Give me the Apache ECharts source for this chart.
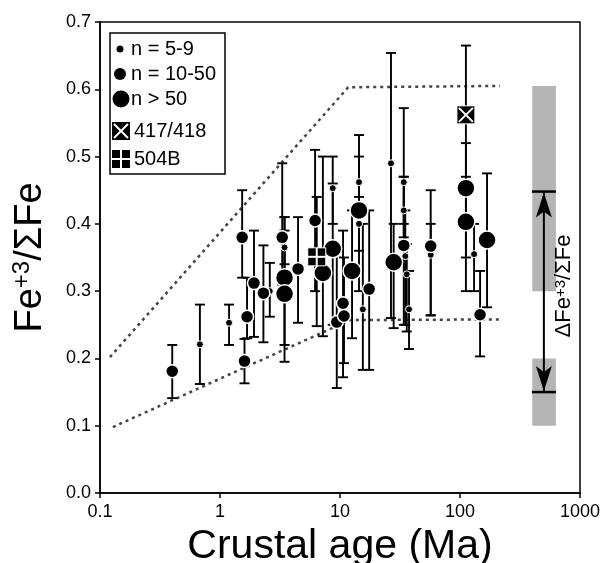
<!DOCTYPE html>
<html><head><meta charset="utf-8">
<script src="https://cdn.jsdelivr.net/npm/echarts@6/dist/echarts.min.js"></script>
<style>html,body{margin:0;padding:0;background:#fff}#c{width:608px;height:563px}</style>
</head><body><div id="c"></div>
<script>
// [age (Ma), Fe3+/ΣFe, low, high]
var smallPts = [
  [0.68,0.221,0.162,0.28],[1.19,0.253,0.22,0.28],[2.6,0.30,0.262,0.342],
  [3.45,0.365,0.34,0.41],[8.7,0.453,0.40,0.50],[14.4,0.462,0.42,0.50],
  [14.4,0.40,0.36,0.44],[15.5,0.273,0.183,0.40],[26.6,0.49,0.26,0.654],
  [34,0.462,0.40,0.572],[34,0.42,0.38,0.47],[35,0.352,0.25,0.42],
  [36,0.325,0.24,0.37],[37.6,0.273,0.214,0.33],[57,0.354,0.264,0.40],
  [131,0.355,0.30,0.40]
];
var mediumPts = [
  [0.4,0.181,0.141,0.22],[1.53,0.38,0.32,0.45],[1.6,0.196,0.163,0.229],
  [1.68,0.262,0.23,0.32],[1.92,0.312,0.232,0.39],[2.3,0.297,0.224,0.368],
  [3.3,0.38,0.31,0.49],[4.47,0.333,0.253,0.41],[6.2,0.405,0.30,0.51],
  [9.4,0.254,0.156,0.36],[10.6,0.282,0.172,0.39],[10.8,0.263,0.193,0.35],
  [17.5,0.303,0.183,0.42],[34,0.368,0.25,0.47],[57,0.367,0.264,0.45],
  [147,0.265,0.203,0.33]
];
var largePts = [
  [3.45,0.32,0.22,0.41],[3.45,0.296,0.195,0.39],[7.2,0.327,0.233,0.50],
  [8.7,0.363,0.25,0.46],[12.6,0.33,0.23,0.42],[14.4,0.42,0.30,0.532],
  [28,0.343,0.245,0.40],[112,0.453,0.35,0.52],[112,0.403,0.30,0.47],
  [168,0.376,0.276,0.475]
];
var site417 = [[112,0.562,0.45,0.665]];
var site504B = [[6.4,0.351,0.248,0.44]];
var upperBound = [[0.121,0.202],[11.7,0.603],[215,0.605]];
var lowerBound = [[0.128,0.098],[12.1,0.257],[227,0.258]];
// [x0, x1, y0, y1]
var bands = [[400,630,0.30,0.605],[400,630,0.10,0.20]];
// [x, yTop, yBottom]
var deltaArrow = [[500,0.448,0.150]];
var xTicks = [0.1,1,10,100,1000];
var legendNames = ['n = 5-9','n = 10-50','n > 50','417/418','504B'];

var allPts = smallPts.concat(mediumPts, largePts, site417, site504B);

function errRender(params, api){
  var x = api.value(0), lo = api.value(2), hi = api.value(3);
  var a = api.coord([x, lo]), b = api.coord([x, hi]);
  var w = 5;
  var st = {stroke:'#000', lineWidth:1.9};
  return {type:'group', children:[
    {type:'line', shape:{x1:a[0],y1:a[1],x2:b[0],y2:b[1]}, style:st},
    {type:'line', shape:{x1:a[0]-w,y1:a[1],x2:a[0]+w,y2:a[1]}, style:st},
    {type:'line', shape:{x1:b[0]-w,y1:b[1],x2:b[0]+w,y2:b[1]}, style:st}
  ]};
}
function squareRender(kind){
  return function(params, api){
    var p = api.coord([api.value(0), api.value(1)]);
    var s = 9;
    var ch = [{type:'rect', shape:{x:p[0]-s,y:p[1]-s,width:2*s,height:2*s}, style:{fill:'#000', stroke:'#fff', lineWidth:1}}];
    var ws = {stroke:'#fff', lineWidth:2};
    if(kind==='x'){
      ch.push({type:'line', shape:{x1:p[0]-s+2,y1:p[1]-s+2,x2:p[0]+s-2,y2:p[1]+s-2}, style:ws});
      ch.push({type:'line', shape:{x1:p[0]+s-2,y1:p[1]-s+2,x2:p[0]-s+2,y2:p[1]+s-2}, style:ws});
    } else {
      ch.push({type:'line', shape:{x1:p[0],y1:p[1]-s,x2:p[0],y2:p[1]+s}, style:ws});
      ch.push({type:'line', shape:{x1:p[0]-s,y1:p[1],x2:p[0]+s,y2:p[1]}, style:ws});
    }
    return {type:'group', children:ch};
  };
}
function bandRender(params, api){
  var a = api.coord([api.value(0), api.value(3)]);
  var b = api.coord([api.value(1), api.value(2)]);
  return {type:'rect', shape:{x:a[0], y:a[1], width:b[0]-a[0], height:b[1]-a[1]}, style:{fill:'#b4b4b4'}};
}
function arrowRender(params, api){
  var x = api.value(0);
  var t = api.coord([x, api.value(1)]), b = api.coord([x, api.value(2)]);
  var st = {stroke:'#000', lineWidth:2};
  var hw = 8, hl = 26, cw = 12;
  return {type:'group', children:[
    {type:'line', shape:{x1:t[0],y1:t[1],x2:b[0],y2:b[1]}, style:st},
    {type:'line', shape:{x1:t[0]-cw,y1:t[1],x2:t[0]+cw,y2:t[1]}, style:{stroke:'#000',lineWidth:2.5}},
    {type:'line', shape:{x1:b[0]-cw,y1:b[1],x2:b[0]+cw,y2:b[1]}, style:{stroke:'#000',lineWidth:2.5}},
    {type:'polygon', shape:{points:[[t[0],t[1]+1],[t[0]-hw,t[1]+hl],[t[0],t[1]+hl-6],[t[0]+hw,t[1]+hl]]}, style:{fill:'#000'}},
    {type:'polygon', shape:{points:[[b[0],b[1]-1],[b[0]-hw,b[1]-hl],[b[0],b[1]-hl+6],[b[0]+hw,b[1]-hl]]}, style:{fill:'#000'}}
  ]};
}

var FONT = 'Liberation Sans, Arial, sans-serif';
var chart = echarts.init(document.getElementById('c'));
var lx = 120, ly = [49,74,99,131,159];
var legendGraphics = [
  {type:'rect', shape:{x:110,y:33,width:115,height:141}, style:{fill:'#fff', stroke:'#000', lineWidth:1.5}, z:100},
  {type:'circle', shape:{cx:lx,cy:ly[0],r:3.5}, style:{fill:'#000'}, z:101},
  {type:'circle', shape:{cx:lx,cy:ly[1],r:6}, style:{fill:'#000'}, z:101},
  {type:'circle', shape:{cx:lx+1,cy:ly[2],r:8.5}, style:{fill:'#000'}, z:101},
  {type:'rect', shape:{x:lx-8,y:ly[3]-9,width:18,height:18}, style:{fill:'#000'}, z:101},
  {type:'line', shape:{x1:lx-6,y1:ly[3]-7,x2:lx+8,y2:ly[3]+7}, style:{stroke:'#fff',lineWidth:2}, z:102},
  {type:'line', shape:{x1:lx+8,y1:ly[3]-7,x2:lx-6,y2:ly[3]+7}, style:{stroke:'#fff',lineWidth:2}, z:102},
  {type:'rect', shape:{x:lx-8,y:ly[4]-9,width:18,height:18}, style:{fill:'#000'}, z:101},
  {type:'line', shape:{x1:lx+1,y1:ly[4]-9,x2:lx+1,y2:ly[4]+9}, style:{stroke:'#fff',lineWidth:2}, z:102},
  {type:'line', shape:{x1:lx-8,y1:ly[4],x2:lx+10,y2:ly[4]}, style:{stroke:'#fff',lineWidth:2}, z:102}
];
var textX = [131,131,131,134,134];
for (var i=0;i<legendNames.length;i++){
  legendGraphics.push({type:'text', x:textX[i], y:ly[i], z:101,
    style:{text:legendNames[i], font:'20px '+FONT, fill:'#000', textVerticalAlign:'middle', verticalAlign:'middle'}});
}
legendGraphics.push({type:'text', x:564, y:286, rotation:Math.PI/2, z:101,
  style:{text:'{a|ΔFe}{s|+3}{a|/ΣFe}', align:'center', verticalAlign:'middle',
    rich:{a:{font:'22px '+FONT, fill:'#000'}, s:{font:'15px '+FONT, fill:'#000', padding:[0,0,6,0]}}}});

var dotStyle = function(bw){ return {color:'#000', opacity:1, borderColor:'#fff', borderWidth:bw}; };
chart.setOption({
  animation:false,
  backgroundColor:'#fff',
  grid:{left:100, right:28, top:22, bottom:70, containLabel:false, outerBoundsMode:'none',
    show:true, borderColor:'#000', borderWidth:1.5, backgroundColor:'transparent'},
  xAxis:{type:'log', logBase:10, min:0.1, max:1000,
    name:'Crustal age (Ma)', nameLocation:'middle', nameGap:22,
    nameTextStyle:{fontSize:41, fontFamily:FONT, color:'#000'},
    axisLine:{lineStyle:{color:'#000', width:1.5}},
    axisTick:{inside:false, length:5, lineStyle:{color:'#000', width:1.5}},
    minorTick:{show:false}, splitLine:{show:false},
    axisLabel:{fontSize:18, fontFamily:FONT, color:'#000', margin:10,
      formatter:function(v){ return xTicks.indexOf(+(+v).toPrecision(6))>=0 ? String(+(+v).toPrecision(6)) : ''; }}
  },
  yAxis:{type:'value', min:0, max:0.7, interval:0.1,
    name:'{a|Fe}{s|+3}{a|/ΣFe}', nameLocation:'middle', nameGap:48,
    nameTextStyle:{rich:{a:{fontSize:38, fontFamily:FONT, color:'#000'}, s:{fontSize:24, fontFamily:FONT, color:'#000', padding:[0,0,18,0]}}},
    axisLine:{lineStyle:{color:'#000', width:1.5}},
    axisTick:{inside:false, length:5, lineStyle:{color:'#000', width:1.5}},
    splitLine:{show:false},
    axisLabel:{fontSize:18, fontFamily:FONT, color:'#000', margin:9, formatter:function(v){return v.toFixed(1);}}
  },
  graphic:legendGraphics,
  series:[
    {type:'custom', renderItem:bandRender, data:bands, z:1, silent:true},
    {type:'line', data:upperBound, showSymbol:false, symbol:'none', lineStyle:{color:'#444', width:2.5, type:[3,4]}, z:2},
    {type:'line', data:lowerBound, showSymbol:false, symbol:'none', lineStyle:{color:'#444', width:2.5, type:[3,4]}, z:2},
    {type:'custom', renderItem:errRender, data:allPts, z:3},
    {type:'custom', renderItem:arrowRender, data:deltaArrow, z:4},
    {type:'scatter', name:legendNames[0], data:smallPts, symbolSize:7, itemStyle:dotStyle(1), z:5},
    {type:'scatter', name:legendNames[1], data:mediumPts, symbolSize:13, itemStyle:dotStyle(1.5), z:6},
    {type:'scatter', name:legendNames[2], data:largePts, symbolSize:18, itemStyle:dotStyle(1.5), z:7},
    {type:'custom', name:legendNames[3], renderItem:squareRender('x'), data:site417, z:8},
    {type:'custom', name:legendNames[4], renderItem:squareRender('+'), data:site504B, z:8}
  ]
});
</script></body></html>
